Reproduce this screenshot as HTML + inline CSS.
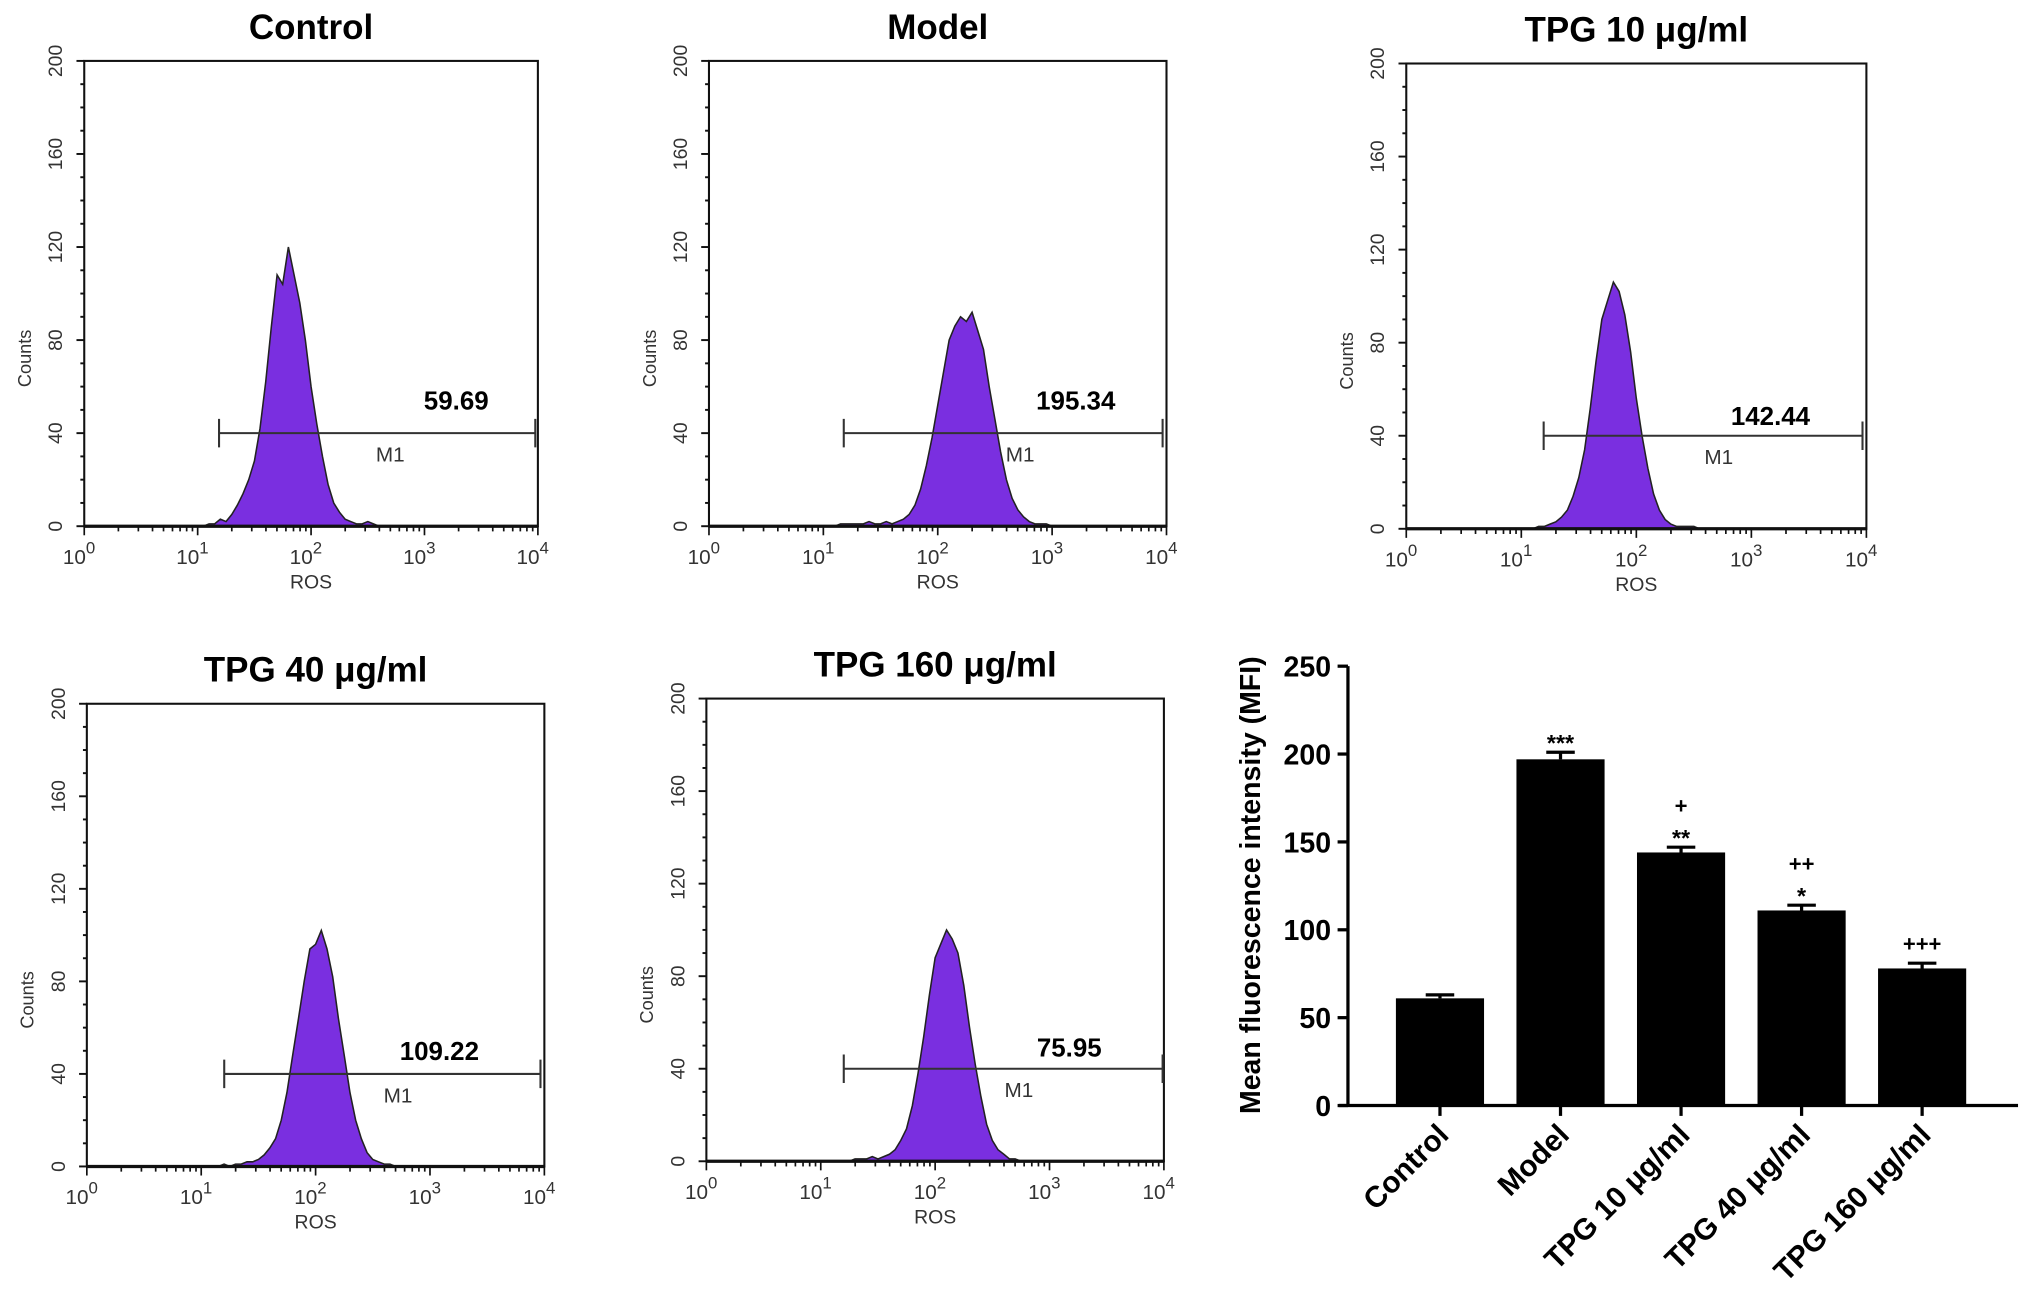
<!DOCTYPE html>
<html><head><meta charset="utf-8"><style>
html,body{margin:0;padding:0;background:#fff;}
svg{display:block;}
text{font-family:"Liberation Sans",Arial,sans-serif;}
</style></head><body>
<svg id="fig" width="2031" height="1312" viewBox="0 0 1567 1012.3" preserveAspectRatio="none" xmlns="http://www.w3.org/2000/svg"></svg>
<script>
// ---- histogram data (log10 ROS bins, counts) ----
const binLogs = [1.0,1.05,1.1,1.15,1.2,1.25,1.3,1.35,1.4,1.45,1.5,1.55,1.6,1.65,1.7,1.75,1.8,1.85,1.9,1.95,2.0,2.05,2.1,2.15,2.2,2.25,2.3,2.35,2.4,2.45,2.5,2.55,2.6,2.65,2.7,2.75,2.8,2.85,2.9,2.95,3.0];
const countsControl = [0,0,1,1,3,2,5,9,14,20,28,42,62,86,108,104,120,108,96,80,60,44,30,18,10,6,3,2,1,1,2,1,0,0,0,0,0,0,0,0,0];
const countsModel   = [0,0,0,1,1,1,1,1,2,1,1,2,1,2,3,5,9,16,26,38,52,66,80,86,90,88,92,84,76,60,46,32,20,12,7,4,2,1,1,1,0];
const countsTPG10   = [0,0,0,1,1,2,3,5,8,14,22,34,52,72,90,98,106,102,92,76,56,40,26,15,8,4,2,1,1,1,1,0,0,0,0,0,0,0,0,0,0];
const countsTPG40   = [0,0,0,0,1,0,1,1,2,2,3,5,8,12,20,32,48,64,80,94,96,102,94,82,64,48,32,20,12,6,3,2,1,1,0,0,0,0,0,0,0];
const countsTPG160  = [0,0,0,0,0,0,1,1,1,2,1,2,3,5,9,14,24,38,54,72,88,94,100,96,90,76,58,42,28,16,9,5,3,1,1,0,0,0,0,0,0];
const histTitles = ["Control","Model","TPG 10 μg/ml","TPG 40 μg/ml","TPG 160 μg/ml"];
const histMFI = ["59.69","195.34","142.44","109.22","75.95"];
// ---- bar chart data ----
const barCategories = ["Control","Model","TPG 10 μg/ml","TPG 40 μg/ml","TPG 160 μg/ml"];
const barValues = [61,197,144,111,78];
const barErrors = [2,4,3,3,3];
const barMarks = [[""],["***"],["+","**"],["++","*"],["+++"]];
const barTicks = [0,50,100,150,200,250];

const NS="http://www.w3.org/2000/svg";
const svg=document.getElementById('fig');
function el(tag,attrs,parent,txt){const e=document.createElementNS(NS,tag);for(const k in attrs)e.setAttribute(k,attrs[k]);if(txt!==undefined)e.textContent=txt;(parent||svg).appendChild(e);return e;}

const panels=[
 {x0:65,x1:415,yt:47,yb:406,data:countsControl,gx0:169,gx1:413,lblX:352,lblY:316,m1X:290},
 {x0:547,x1:900,yt:47,yb:406,data:countsModel,gx0:651,gx1:897,lblX:830,lblY:316,m1X:776},
 {x0:1085,x1:1440,yt:49,yb:408,data:countsTPG10,gx0:1191,gx1:1437,lblX:1366,lblY:328,m1X:1315},
 {x0:67,x1:420,yt:543,yb:900,data:countsTPG40,gx0:173,gx1:417,lblX:339,lblY:818,m1X:296},
 {x0:545,x1:898,yt:539,yb:896,data:countsTPG160,gx0:651,gx1:897,lblX:825,lblY:815,m1X:775}
];
panels.forEach((p,i)=>{
  const g=el('g',{});
  
  
  const xs=v=>p.x0+(p.x1-p.x0)*v/4;
  const ys=c=>p.yb-(p.yb-p.yt)*c/200;
  const t=el('text',{x:(p.x0+p.x1)/2,y:p.yt-17,'text-anchor':'middle','font-size':27,'font-weight':'bold'},g,histTitles[i]);
  
  
  let d='M'+xs(binLogs[0])+','+ys(0);
  p.data.forEach((c,j)=>{d+=' L'+xs(binLogs[j]).toFixed(1)+','+ys(c).toFixed(1);});
  d+=' L'+xs(binLogs[binLogs.length-1])+','+ys(0)+' Z';
  const h=el('path',{d:d,fill:'#7a2fe0',stroke:'#222','stroke-width':1.2},g);
  
  
  const b=el('rect',{x:p.x0,y:p.yt,width:p.x1-p.x0,height:p.yb-p.yt,fill:'none',stroke:'#111','stroke-width':1.6},g);
  
  
  el('line',{x1:p.x0,y1:p.yb,x2:p.x1,y2:p.yb,stroke:'#111','stroke-width':2.5},g);
  for(let c=0;c<=200;c+=10){const major=c%40===0;el('line',{x1:p.x0-(major?6:3),y1:ys(c),x2:p.x0,y2:ys(c),stroke:'#111','stroke-width':1.5},g);
    if(major){const yl=el('text',{x:0,y:0,transform:`translate(${p.x0-17},${ys(c)}) rotate(-90)`,'text-anchor':'middle','font-size':15,fill:'#333'},g,String(c));
      }}
  const yt=el('text',{transform:`translate(${p.x0-41},${(p.yt+p.yb)/2+50}) rotate(-90)`,'text-anchor':'middle','font-size':14,fill:'#333'},g,'Counts');
  
  for(let dd=0;dd<4;dd++){for(let k=1;k<10;k++){const v=dd+Math.log10(k);el('line',{x1:xs(v),y1:p.yb,x2:xs(v),y2:p.yb+(k===1?7:4),stroke:'#111','stroke-width':1.3},g);}}
  el('line',{x1:xs(4),y1:p.yb,x2:xs(4),y2:p.yb+7,stroke:'#111','stroke-width':1.3},g);
  for(let dd=0;dd<=4;dd++){const xl=el('text',{x:xs(dd)-4,y:p.yb+29,'text-anchor':'middle','font-size':16,fill:'#333'},g);
    
    el('tspan',{},xl,'10');el('tspan',{dy:-8,'font-size':13},xl,String(dd));}
  const xt=el('text',{x:xs(2),y:p.yb+48,'text-anchor':'middle','font-size':15,fill:'#333'},g,'ROS');
  
  const gy=ys(40);
  const gate=el('path',{d:`M${p.gx0},${gy} H${p.gx1} M${p.gx0},${gy-11} V${gy+11} M${p.gx1},${gy-11} V${gy+11}`,stroke:'#333','stroke-width':1.6,fill:'none'},g);
  
  const ml=el('text',{x:p.m1X,y:gy+22,'font-size':16,fill:'#333'},g,'M1');
  
  const vl=el('text',{x:p.lblX,y:p.lblY,'text-anchor':'middle','font-size':20,'font-weight':'bold'},g,histMFI[i]);
  
});

// ---- bar chart ----
const bc=el('g',{});


const bx0=1040,bxEnd=1557,by0=853,by1=514;
const yScale=v=>by0-(by0-by1)*v/250;
const xCenter=i=>1111+i*93;
const bw=68;
el('line',{x1:bx0,y1:by1,x2:bx0,y2:by0,stroke:'#000','stroke-width':2.5},bc);
el('line',{x1:1033,y1:by0,x2:bxEnd,y2:by0,stroke:'#000','stroke-width':2.5},bc);
barTicks.forEach(v=>{el('line',{x1:bx0-8,y1:yScale(v),x2:bx0,y2:yScale(v),stroke:'#000','stroke-width':2.5},bc);
  const tl=el('text',{x:bx0-13,y:yScale(v)+8,'text-anchor':'end','font-size':22,'font-weight':'bold'},bc,String(v));
  });
const ytl=el('text',{transform:`translate(972,683) rotate(-90)`,'text-anchor':'middle','font-size':22,'font-weight':'bold'},bc,'Mean fluorescence intensity (MFI)');

barValues.forEach((v,i)=>{
  const cx=xCenter(i);
  const r=el('rect',{x:cx-bw/2,y:yScale(v),width:bw,height:by0-yScale(v),fill:'#000'},bc);
  
  const et=yScale(v+barErrors[i]);
  const eb=el('path',{d:`M${cx},${yScale(v)} V${et} M${cx-11},${et} H${cx+11}`,stroke:'#000','stroke-width':2.5},bc);
  
  el('line',{x1:cx,y1:by0,x2:cx,y2:by0+8,stroke:'#000','stroke-width':2.5},bc);
  const m=barMarks[i];
  m.slice().reverse().forEach((s,k)=>{
    const isStar=s.indexOf('*')>=0;
    const st=el('text',{x:cx,y:et-9-k*17+(isStar?8:0),'text-anchor':'middle','font-size':isStar?18:17,'font-weight':'bold'},bc,s);
    });
  const cl=el('text',{transform:`translate(${cx+8},${by0+24}) rotate(-45)`,'text-anchor':'end','font-size':23,'font-weight':'bold'},bc,barCategories[i]);
  
});
</script>
</body></html>
